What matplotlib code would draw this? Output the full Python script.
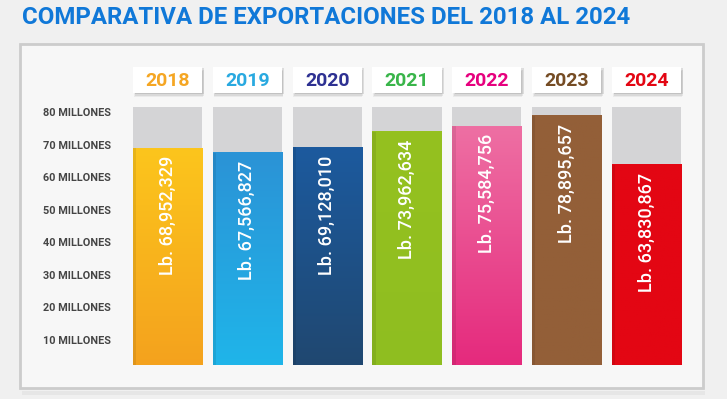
import matplotlib
matplotlib.use("Agg")
import matplotlib.pyplot as plt
import matplotlib.patches as mpatches
import numpy as np

# datos de exportaciones (libras)
years = ["2018", "2019", "2020", "2021", "2022", "2023", "2024"]
values = [68952329, 67566827, 69128010, 73962634, 75584756, 78895657, 63830867]
labels = ["Lb. 68,952,329", "Lb. 67,566,827", "Lb. 69,128,010", "Lb. 73,962,634",
          "Lb. 75,584,756", "Lb. 78,895,657", "Lb. 63,830,867"]
tick_vals = [10, 20, 30, 40, 50, 60, 70, 80]
tick_labels = ["%d MILLONES" % t for t in tick_vals]

year_colors = ["#f5a623", "#29a9e0", "#2e3192", "#39b54a", "#e6007e", "#754c24", "#e30613"]
bar_top = ["#fcc51c", "#2b93d6", "#1c5a9e", "#95c11f", "#ee6fa3", "#935f38", "#e30613"]
bar_bot = ["#f4a11e", "#1fb6ea", "#20476f", "#8fbe21", "#e5287c", "#935f38", "#e30613"]

FONT = ["Roboto", "DejaVu Sans"]

W, H = 727, 399
fig = plt.figure(figsize=(W / 100, H / 100), dpi=100)
fig.patch.set_facecolor("#f0f0f0")

# panel de fondo
bg = fig.add_axes([0, 0, 1, 1], zorder=-1)
bg.set_xlim(0, W)
bg.set_ylim(H, 0)
bg.axis("off")
bg.add_patch(mpatches.Rectangle((22, 391), 683, 4, facecolor="#e6e6e6", edgecolor="none"))
bg.add_patch(mpatches.Rectangle((20, 44), 683, 344, facecolor="#f7f7f7", edgecolor="#cccccc", lw=2))

fig.text(22 / W, 1 - 18 / H, "COMPARATIVA DE EXPORTACIONES DEL 2018 AL 2024",
         color="#1078d8", fontsize=17.3, fontweight="bold", va="center", ha="left",
         family=FONT)

# eje: 0 millones -> y=372.6 px, 3.257 px por millon
px = 3.257
y0 = 372.6
ax_bot, ax_top = 365, 100
ylo = (y0 - ax_bot) / px
yhi = (y0 - ax_top) / px
left = 127.6
right = 686.4
ax = fig.add_axes([left / W, 1 - ax_bot / H, (right - left) / W, (ax_bot - ax_top) / H])
ax.set_facecolor("none")
for s in ax.spines.values():
    s.set_visible(False)

x = np.arange(len(years))
bw = 69 / 79.8
vals_m = [v / 1e6 for v in values]

# fondo gris de cada barra
ax.bar(x, 81.5, width=bw, color="#d4d4d6", zorder=1)

yb = (y0 - 93) / px
yt = (y0 - 67) / px
for i, v in enumerate(vals_m):
    ax.bar(x[i], v, width=bw, color=bar_top[i], zorder=2)
    grad = np.linspace(0, 1, 100).reshape(-1, 1)
    cmap = matplotlib.colors.LinearSegmentedColormap.from_list("g", [bar_bot[i], bar_top[i]])
    ax.imshow(grad, extent=(x[i] - bw / 2, x[i] + bw / 2, 0, v), origin="lower",
              cmap=cmap, aspect="auto", zorder=3)
    # sombra lateral izquierda
    ax.bar(x[i] - bw / 2 + 0.02, v, width=0.04, color="black", alpha=0.08, zorder=4)
    ax.text(x[i], v - 2.4, labels[i], rotation=90, ha="center", va="top", color="white",
            fontsize=13, fontweight="medium", zorder=5, family=FONT)

    # caja del año
    for k, a in enumerate([0.05, 0.07, 0.1]):
        sh = mpatches.Rectangle((x[i] - bw / 2 + 0.01 * (k + 1), yb - 0.4 * (3 - k)), bw, yt - yb,
                                facecolor="black", alpha=a, edgecolor="none", clip_on=False, zorder=1)
        ax.add_patch(sh)
    box = mpatches.Rectangle((x[i] - bw / 2, yb), bw, yt - yb, facecolor="white",
                             edgecolor="none", clip_on=False, zorder=2)
    ax.add_patch(box)
    ax.text(x[i], (yb + yt) / 2 - 0.3, years[i], ha="center", va="center", color=year_colors[i],
            fontsize=14, fontweight="bold", clip_on=False, zorder=3, family=FONT)

ax.set_xlim(-0.5, 6.5)
ax.set_ylim(ylo, yhi)
ax.set_xticks([])
ax.set_yticks(tick_vals)
ax.set_yticklabels(tick_labels, fontsize=7.8, fontweight="bold", color="#454545", family=FONT)
ax.tick_params(axis="y", length=0, pad=12)

fig.savefig("out.png", dpi=100, facecolor=fig.get_facecolor())
